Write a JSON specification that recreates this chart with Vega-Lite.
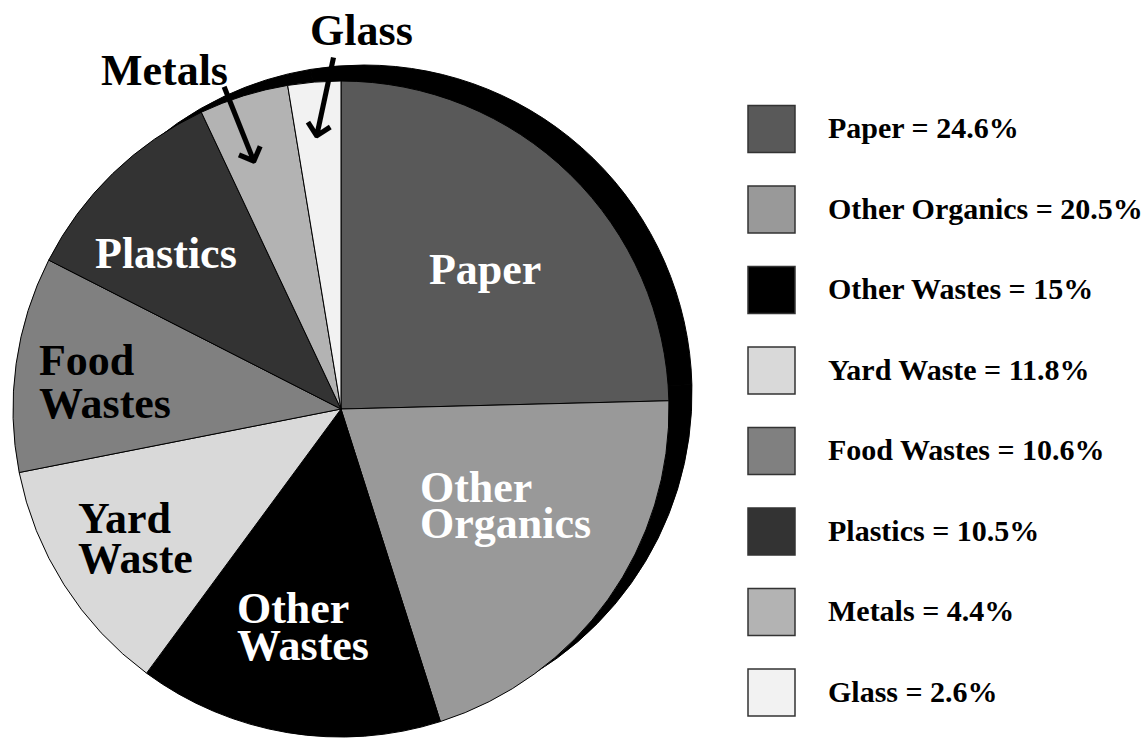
{
  "$schema": "https://vega.github.io/schema/vega-lite/v6.json",
  "width": 1145,
  "height": 738,
  "autosize": {"type": "none"},
  "padding": 0,
  "background": "white",
  "config": {"view": {"stroke": null}},
  "data": {
    "values": [
      {"category": "Paper", "pct": 24.6, "order": 1, "legend": "Paper = 24.6%", "label": "Paper"},
      {"category": "Other Organics", "pct": 20.5, "order": 2, "legend": "Other Organics = 20.5%", "label": "Other\nOrganics"},
      {"category": "Other Wastes", "pct": 15, "order": 3, "legend": "Other Wastes = 15%", "label": "Other\nWastes"},
      {"category": "Yard Waste", "pct": 11.8, "order": 4, "legend": "Yard Waste = 11.8%", "label": "Yard\nWaste"},
      {"category": "Food Wastes", "pct": 10.6, "order": 5, "legend": "Food Wastes = 10.6%", "label": "Food\nWastes"},
      {"category": "Plastics", "pct": 10.5, "order": 6, "legend": "Plastics = 10.5%", "label": "Plastics"},
      {"category": "Metals", "pct": 4.4, "order": 7, "legend": "Metals = 4.4%", "label": "Metals"},
      {"category": "Glass", "pct": 2.6, "order": 8, "legend": "Glass = 2.6%", "label": "Glass"}
    ]
  },
  "encoding": {
    "x": {"datum": 0, "type": "quantitative", "scale": {"domain": [-1.0396, 2.4512], "nice": false, "zero": false}, "axis": null},
    "y": {"datum": 0, "type": "quantitative", "scale": {"domain": [-1.003, 1.247], "nice": false, "zero": false}, "axis": null},
    "theta": {"field": "pct", "type": "quantitative", "stack": true, "scale": {"domain": [0, 100]}},
    "order": {"field": "order", "type": "quantitative"},
    "detail": {"field": "category", "type": "nominal"}
  },
  "layer": [
    {
      "mark": {"type": "arc", "outerRadius": 328, "fill": "black", "stroke": "black", "strokeWidth": 1, "xOffset": 23, "yOffset": -16}
    },
    {
      "mark": {"type": "arc", "outerRadius": 328, "stroke": "black", "strokeWidth": 1},
      "encoding": {
        "color": {
          "field": "legend",
          "type": "nominal",
          "sort": ["Paper = 24.6%", "Other Organics = 20.5%", "Other Wastes = 15%", "Yard Waste = 11.8%", "Food Wastes = 10.6%", "Plastics = 10.5%", "Metals = 4.4%", "Glass = 2.6%"],
          "scale": {
            "domain": ["Paper = 24.6%", "Other Organics = 20.5%", "Other Wastes = 15%", "Yard Waste = 11.8%", "Food Wastes = 10.6%", "Plastics = 10.5%", "Metals = 4.4%", "Glass = 2.6%"],
            "range": ["#595959", "#999999", "#000000", "#d9d9d9", "#808080", "#333333", "#b3b3b3", "#f2f2f2"]
          },
          "legend": {
            "title": null,
            "orient": "none",
            "legendX": 747,
            "legendY": 104.5,
            "symbolType": "square",
            "symbolSize": 2209,
            "symbolStrokeColor": "#333333",
            "symbolStrokeWidth": 1.5,
            "symbolOpacity": 1,
            "labelFont": "Liberation Serif",
            "labelFontWeight": "bold",
            "labelFontSize": 30,
            "labelColor": "black",
            "labelOffset": 32,
            "labelLimit": 500,
            "labelBaseline": "middle",
            "rowPadding": 27.5,
            "padding": 0
          }
        }
      }
    },
    {
      "mark": {"type": "text", "align": "left", "baseline": "middle", "radius": 163.8, "thetaOffset": -0.2058, "fill": "white", "font": "Liberation Serif", "fontWeight": "bold", "fontSize": 44, "lineHeight": 38, "lineBreak": "\n"},
      "encoding": {"text": {"condition": {"test": "datum.category === 'Paper'", "field": "label"}, "value": ""}}
    },
    {
      "mark": {"type": "text", "align": "left", "baseline": "middle", "radius": 112.3, "thetaOffset": 0.1716, "fill": "white", "font": "Liberation Serif", "fontWeight": "bold", "fontSize": 44, "lineHeight": 36, "lineBreak": "\n"},
      "encoding": {"text": {"condition": {"test": "datum.category === 'Other Organics'", "field": "label"}, "value": ""}}
    },
    {
      "mark": {"type": "text", "align": "left", "baseline": "middle", "radius": 226.1, "thetaOffset": 0.3147, "fill": "white", "font": "Liberation Serif", "fontWeight": "bold", "fontSize": 44, "lineHeight": 37, "lineBreak": "\n"},
      "encoding": {"text": {"condition": {"test": "datum.category === 'Other Wastes'", "field": "label"}, "value": ""}}
    },
    {
      "mark": {"type": "text", "align": "left", "baseline": "middle", "radius": 285.4, "thetaOffset": 0.1667, "fill": "black", "font": "Liberation Serif", "fontWeight": "bold", "fontSize": 44, "lineHeight": 40, "lineBreak": "\n"},
      "encoding": {"text": {"condition": {"test": "datum.category === 'Yard Waste'", "field": "label"}, "value": ""}}
    },
    {
      "mark": {"type": "text", "align": "left", "baseline": "middle", "radius": 305.7, "thetaOffset": 0.0168, "fill": "black", "font": "Liberation Serif", "fontWeight": "bold", "fontSize": 44, "lineHeight": 43, "lineBreak": "\n"},
      "encoding": {"text": {"condition": {"test": "datum.category === 'Food Wastes'", "field": "label"}, "value": ""}}
    },
    {
      "mark": {"type": "text", "align": "left", "baseline": "middle", "radius": 290.3, "thetaOffset": -0.2412, "fill": "white", "font": "Liberation Serif", "fontWeight": "bold", "fontSize": 44, "lineHeight": 38, "lineBreak": "\n"},
      "encoding": {"text": {"condition": {"test": "datum.category === 'Plastics'", "field": "label"}, "value": ""}}
    },
    {
      "mark": {"type": "text", "align": "right", "baseline": "middle", "radius": 355.6, "thetaOffset": -0.0218, "fill": "black", "font": "Liberation Serif", "fontWeight": "bold", "fontSize": 44},
      "encoding": {"text": {"condition": {"test": "datum.category === 'Metals'", "field": "label"}, "value": ""}}
    },
    {
      "mark": {"type": "text", "align": "left", "baseline": "middle", "radius": 378.5, "fill": "black", "font": "Liberation Serif", "fontWeight": "bold", "fontSize": 44},
      "encoding": {"text": {"condition": {"test": "datum.category === 'Glass'", "field": "label"}, "value": ""}}
    },
    {
      "mark": {"type": "text", "align": "center", "baseline": "middle", "radius": 301.8, "thetaOffset": -0.0431, "angle": 68.2, "fill": "black", "font": "DejaVu Sans", "fontSize": 62},
      "encoding": {"text": {"condition": {"test": "datum.category === 'Metals'", "value": "⟶"}, "value": ""}}
    },
    {
      "mark": {"type": "text", "align": "center", "baseline": "middle", "radius": 311.9, "thetaOffset": 0.0288, "angle": 102.1, "fill": "black", "font": "DejaVu Sans", "fontSize": 62},
      "encoding": {"text": {"condition": {"test": "datum.category === 'Glass'", "value": "⟶"}, "value": ""}}
    }
  ]
}
